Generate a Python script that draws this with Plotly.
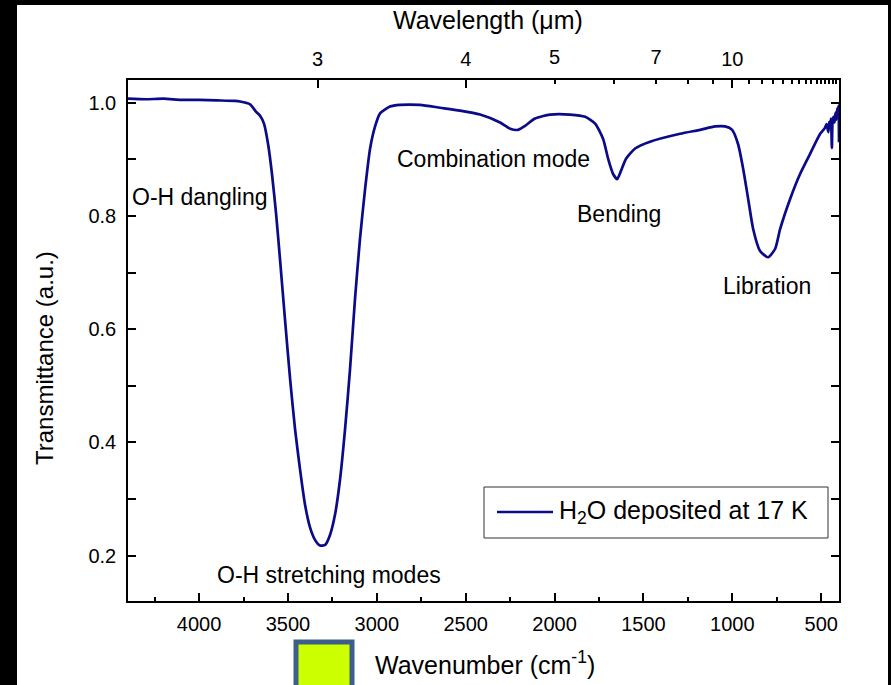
import plotly.graph_objects as go

# Infrared transmittance spectrum of amorphous water ice (deposited at 17 K)
wavenumber = [
    4400, 4300, 4200, 4100, 4000, 3900, 3800, 3770, 3713, 3680, 3657, 3635,
    3612, 3590, 3567, 3545, 3517, 3488, 3460, 3432, 3404, 3376, 3348, 3320,
    3291, 3263, 3235, 3207, 3179, 3151, 3123, 3095, 3066, 3038, 3010, 2982,
    2926, 2870, 2757, 2644, 2532, 2419, 2307, 2250, 2205, 2166, 2110, 2025,
    1913, 1828, 1772, 1727, 1699, 1671, 1648, 1626, 1598, 1547, 1463, 1294,
    1181, 1097, 1041, 1001, 968, 939, 911, 883, 844, 799, 759, 731, 675, 619,
    562, 506, 480, 470, 460, 455, 450, 445, 440, 436, 430, 425, 420, 415,
    410, 405, 402, 400,
]
transmittance = [
    1.007, 1.006, 1.007, 1.005, 1.005, 1.004, 1.003, 1.002, 0.997, 0.984,
    0.977, 0.963, 0.927, 0.874, 0.804, 0.724, 0.618, 0.512, 0.423, 0.352,
    0.290, 0.250, 0.228, 0.218, 0.219, 0.237, 0.273, 0.335, 0.423, 0.529,
    0.653, 0.759, 0.848, 0.919, 0.958, 0.981, 0.993, 0.996, 0.996, 0.991,
    0.986, 0.979, 0.965, 0.954, 0.952, 0.959, 0.972, 0.979, 0.979, 0.975,
    0.963, 0.936, 0.901, 0.874, 0.865, 0.880, 0.901, 0.919, 0.931, 0.945,
    0.952, 0.958, 0.958, 0.952, 0.927, 0.883, 0.830, 0.777, 0.738, 0.727,
    0.742, 0.777, 0.830, 0.874, 0.910, 0.945, 0.955, 0.962, 0.948, 0.966,
    0.958, 0.972, 0.920, 0.968, 0.975, 0.965, 0.982, 0.970, 0.990, 0.975,
    0.995, 0.930,
]
series_name = "H<sub>2</sub>O deposited at 17 K"

# Secondary (top) axis: wavelength in micrometres
wl_major = [3, 4, 10]
wl_labeled_short = [5, 7]
wl_minor = [6, 8, 9] + list(range(11, 26))

# Band assignments
band_labels = ["O-H dangling", "O-H stretching modes", "Combination mode", "Bending", "Libration"]
band_x = [3995, 3269, 2346, 1637, 804]
band_y = [0.834, 0.166, 0.901, 0.804, 0.676]

FONT = "Arial, Liberation Sans, sans-serif"
NAVY = "#0b0b8a"
X_RANGE = [4400, 400]
Y_RANGE = [0.12, 1.04]

# plot-area geometry in pixels, used to place paper-referenced decorations
L, R, T, B = 128, 839, 80, 601
W, H = R - L, B - T


def px(x):
    return (x - L) / W


def py(y):
    return (B - y) / H


fig = go.Figure()
fig.add_trace(go.Scatter(
    x=wavenumber, y=transmittance, mode="lines",
    line=dict(color=NAVY, width=2.7, shape="spline", smoothing=0.6),
    name=series_name, showlegend=False,
))
# invisible traces carrying the wavelength axes
for ax in ("x2", "x3"):
    fig.add_trace(go.Scatter(x=[X_RANGE[0]], y=[Y_RANGE[0]], xaxis=ax, mode="markers",
                             marker=dict(opacity=0), showlegend=False, hoverinfo="skip"))

tickfont = dict(family=FONT, size=20, color="black")
tick_common = dict(ticks="inside", tickwidth=1.5, tickcolor="black", tickfont=tickfont)

fig.update_layout(
    width=891, height=685,
    margin=dict(l=L, r=891 - R, t=T, b=685 - B),
    paper_bgcolor="black", plot_bgcolor="white",
    font=dict(family=FONT, color="black"),
    showlegend=False,
    xaxis=dict(range=X_RANGE, showgrid=False, zeroline=False,
               showline=True, linecolor="black", linewidth=1.5, mirror=True,
               tickmode="array", tickvals=list(range(4000, 400, -500)),
               ticklen=8, ticklabelstandoff=4, **tick_common,
               minor=dict(tickvals=list(range(4250, 400, -500)), ticks="inside",
                          ticklen=4, tickwidth=1.5, tickcolor="black")),
    xaxis2=dict(overlaying="x", side="top", range=X_RANGE, showgrid=False,
                zeroline=False, showline=False,
                tickmode="array", tickvals=[10000 / w for w in wl_major],
                ticktext=[str(w) for w in wl_major],
                ticklen=8, ticklabelstandoff=9, **tick_common,
                minor=dict(tickvals=[10000 / w for w in wl_minor], ticks="inside",
                           ticklen=4, tickwidth=1.5, tickcolor="black")),
    xaxis3=dict(overlaying="x", side="top", range=X_RANGE, showgrid=False,
                zeroline=False, showline=False,
                tickmode="array", tickvals=[10000 / w for w in wl_labeled_short],
                ticktext=[str(w) for w in wl_labeled_short],
                ticklen=4, ticklabelstandoff=11, **tick_common),
    yaxis=dict(range=Y_RANGE, showgrid=False, zeroline=False,
               showline=True, linecolor="black", linewidth=1.5, mirror="allticks",
               tickmode="array", tickvals=[0.2, 0.4, 0.6, 0.8, 1.0], tickformat=".1f",
               ticklen=8, ticklabelstandoff=6, **tick_common,
               minor=dict(tickvals=[0.3, 0.5, 0.7, 0.9], ticks="inside",
                          ticklen=4, tickwidth=1.5, tickcolor="black")),
)

# white slide area framed by black border
fig.add_shape(type="rect", xref="paper", yref="paper",
              x0=px(17), x1=px(888), y0=py(700), y1=py(5),
              fillcolor="white", line=dict(width=0), layer="below")

# coloured marker square beneath the axis
fig.add_shape(type="rect", xref="paper", yref="paper",
              x0=px(296), x1=px(352), y0=py(700), y1=py(642),
              fillcolor="#ccff00", line=dict(color="#3d5d8a", width=5), layer="above")

# legend box with line sample
fig.add_shape(type="rect", xref="paper", yref="paper",
              x0=px(484), x1=px(828), y0=py(538), y1=py(487),
              fillcolor="white", line=dict(color="#333333", width=1), layer="above")
fig.add_shape(type="line", xref="paper", yref="paper",
              x0=px(497), x1=px(553), y0=py(512), y1=py(512),
              line=dict(color=NAVY, width=2.7), layer="above")
fig.add_annotation(text=series_name, xref="paper", yref="paper",
                   x=px(557), y=py(512), showarrow=False,
                   xanchor="left", yanchor="middle",
                   font=dict(family=FONT, size=25, color="black"))

# axis titles
title_font = dict(family=FONT, size=25, color="black")
fig.add_annotation(text="Wavelength (\u03bcm)", xref="paper", yref="paper",
                   x=px(488), y=py(20), showarrow=False,
                   xanchor="center", yanchor="middle", font=title_font)
fig.add_annotation(text="Wavenumber (cm<sup>-1</sup>)", xref="paper", yref="paper",
                   x=px(485), y=py(663), showarrow=False,
                   xanchor="center", yanchor="middle", font=title_font)
fig.add_annotation(text="Transmittance (a.u.)", xref="paper", yref="paper",
                   x=px(45), y=py(358), showarrow=False,
                   textangle=-90, xanchor="center", yanchor="middle",
                   font=dict(family=FONT, size=24, color="black"))

for label, bx, by in zip(band_labels, band_x, band_y):
    fig.add_annotation(text=label, x=bx, y=by, xref="x", yref="y", showarrow=False,
                       xanchor="center", yanchor="middle",
                       font=dict(family=FONT, size=23, color="black"))

fig.write_html("out.html")
